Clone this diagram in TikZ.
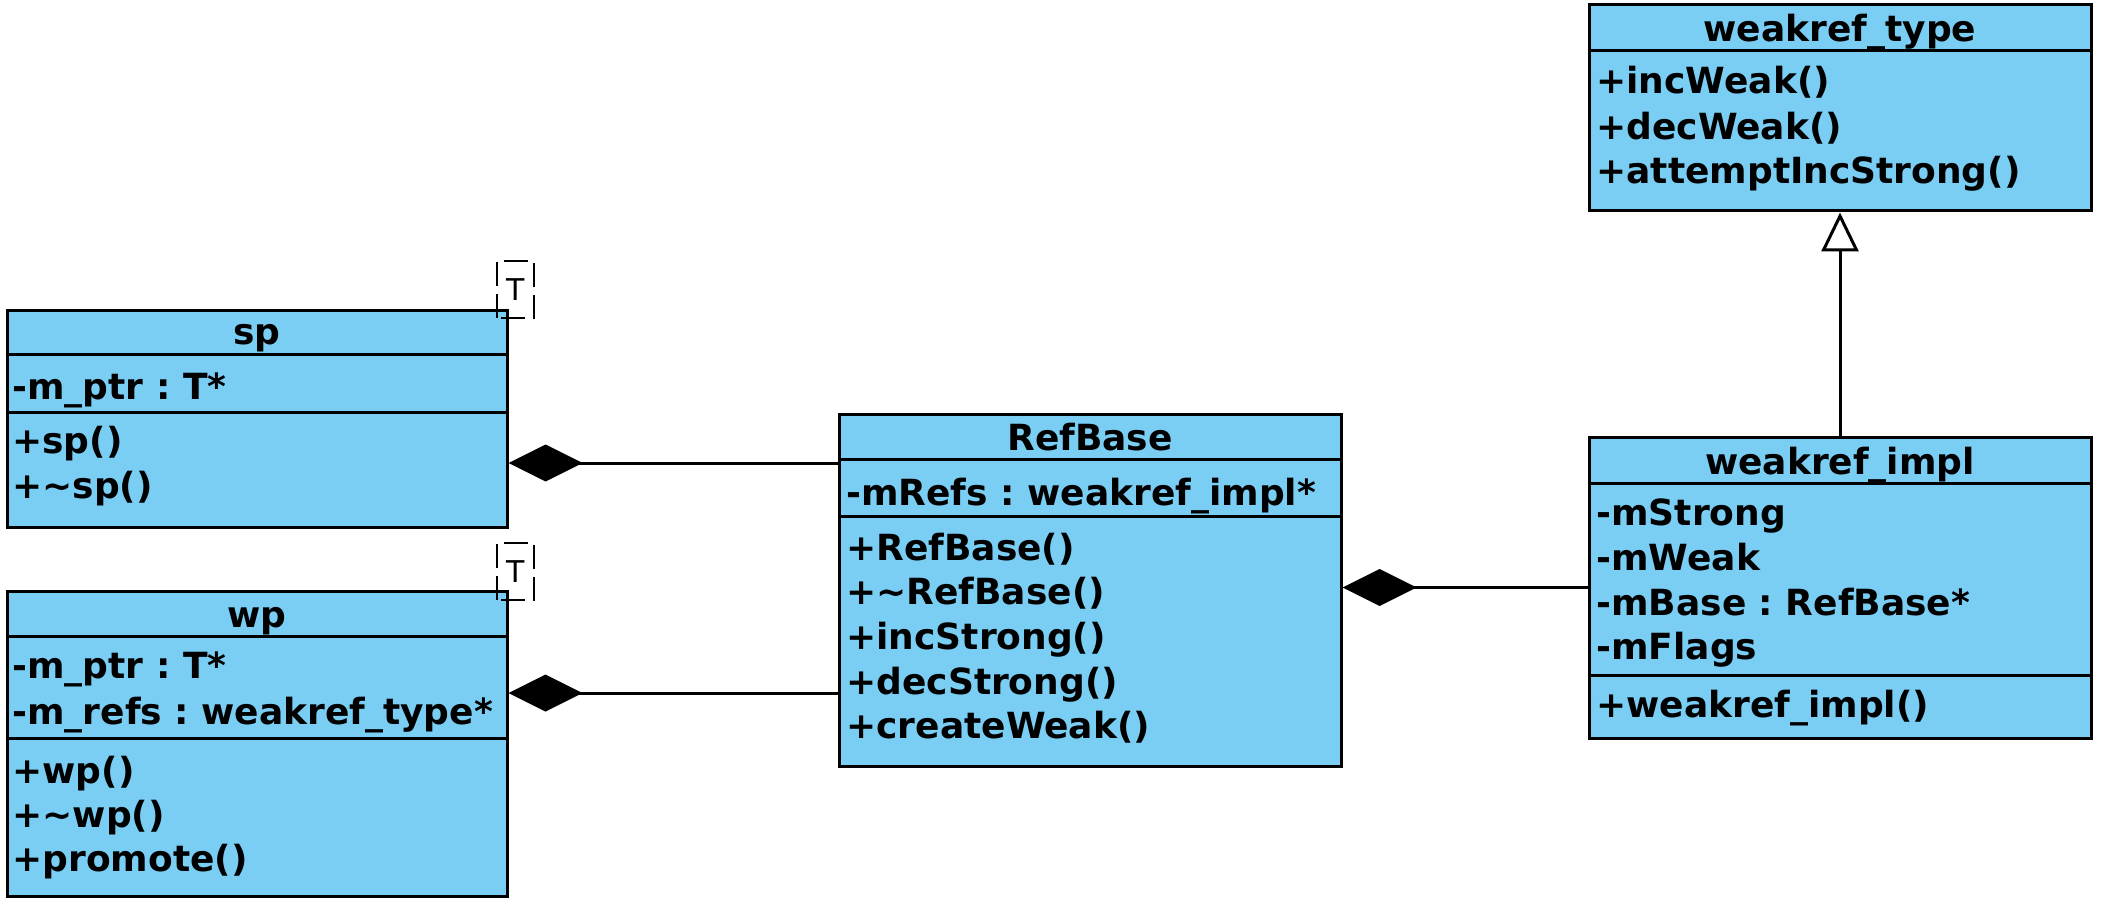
\documentclass[tikz,border=0pt]{standalone}
\usepackage{fontspec}
\setmainfont{DejaVu Sans}
\usetikzlibrary{arrows.meta,fit}
\definecolor{classblue}{RGB}{122,206,244}
\frenchspacing
\tikzset{
  classbox/.style={draw, line width=1.5pt, fill=classblue, inner sep=0pt},
  sepline/.style={line width=1.5pt},
  classname/.style={anchor=mid, inner sep=0pt, font=\fontsize{18}{22}\selectfont\bfseries},
  member/.style={anchor=mid west, inner sep=0pt, font=\fontsize{18}{22}\selectfont\bfseries},
  tparam/.style={draw, dash pattern=on 12pt off 4pt, dash phase=-2pt, line width=1pt, inner sep=0pt},
  tname/.style={inner sep=0pt, font=\fontsize{15}{18}\selectfont},
  compose/.style={line width=1.5pt, -{Diamond[length=37pt, width=18.5pt]}},
  inherit/.style={line width=1.5pt, -{Triangle[open, fill=white, length=19.5pt, width=18.5pt]}},
}
\begin{document}
\begin{tikzpicture}[x=0.5pt, y=-0.5pt]
  \useasboundingbox (0,0) rectangle (2103,909);

  % sp
  \node[classbox, fit={(7,310) (507,527)}] (sp) {};
  \draw[sepline] (sp.west |- 0,354) -- (sp.east |- 0,354);
  \draw[sepline] (sp.west |- 0,412) -- (sp.east |- 0,412);
  \node[classname] (sp-name) at (257,339) {sp};
  \node[member] (sp-a1) at (12,394) {-m\_ptr : T*};
  \node[member] (sp-m1) at (12,448) {+sp()};
  \node[member] (sp-m2) at (12,493) {+\textasciitilde sp()};
  \node[tparam, fit={(497,261) (534,318)}] (sp-tbox) {};
  \node[tname] (sp-t) at (sp-tbox.center) {T};

  % wp
  \node[classbox, fit={(7,591) (507,896)}] (wp) {};
  \draw[sepline] (wp.west |- 0,636) -- (wp.east |- 0,636);
  \draw[sepline] (wp.west |- 0,738) -- (wp.east |- 0,738);
  \node[classname] (wp-name) at (257,622) {wp};
  \node[member] (wp-a1) at (12,673) {-m\_ptr : T*};
  \node[member] (wp-a2) at (12,719) {-m\_refs : weakref\_type*};
  \node[member] (wp-m1) at (12,778) {+wp()};
  \node[member] (wp-m2) at (12,822) {+\textasciitilde wp()};
  \node[member] (wp-m3) at (12,866) {+promote()};
  \node[tparam, fit={(497,543) (534,600)}] (wp-tbox) {};
  \node[tname] (wp-t) at (wp-tbox.center) {T};

  % RefBase
  \node[classbox, fit={(839,414) (1341,766)}] (refbase) {};
  \draw[sepline] (refbase.west |- 0,459) -- (refbase.east |- 0,459);
  \draw[sepline] (refbase.west |- 0,516) -- (refbase.east |- 0,516);
  \node[classname] (refbase-name) at (1090,445) {RefBase};
  \node[member] (refbase-a1) at (846,500) {-mRefs : weakref\_impl*};
  \node[member] (refbase-m1) at (846,555) {+RefBase()};
  \node[member] (refbase-m2) at (846,599) {+\textasciitilde RefBase()};
  \node[member] (refbase-m3) at (846,644) {+incStrong()};
  \node[member] (refbase-m4) at (846,689) {+decStrong()};
  \node[member] (refbase-m5) at (846,733) {+createWeak()};

  % weakref_impl
  \node[classbox, fit={(1589,437) (2091,738)}] (impl) {};
  \draw[sepline] (impl.west |- 0,483) -- (impl.east |- 0,483);
  \draw[sepline] (impl.west |- 0,675) -- (impl.east |- 0,675);
  \node[classname] (impl-name) at (1840,469) {weakref\_impl};
  \node[member] (impl-a1) at (1596,520) {-mStrong};
  \node[member] (impl-a2) at (1596,565) {-mWeak};
  \node[member] (impl-a3) at (1596,610) {-mBase : RefBase*};
  \node[member] (impl-a4) at (1596,654) {-mFlags};
  \node[member] (impl-m1) at (1596,712) {+weakref\_impl()};

  % weakref_type
  \node[classbox, fit={(1589,5) (2091,211)}] (wtype) {};
  \draw[sepline] (wtype.west |- 0,51) -- (wtype.east |- 0,51);
  \node[classname] (wtype-name) at (1840,36) {weakref\_type};
  \node[member] (wtype-m1) at (1596,88) {+incWeak()};
  \node[member] (wtype-m2) at (1596,134) {+decWeak()};
  \node[member] (wtype-m3) at (1596,178) {+attemptIncStrong()};

  % connectors
  \draw[compose] (refbase.west |- 0,463) -- (sp.east |- 0,463);
  \draw[compose] (refbase.west |- 0,693) -- (wp.east |- 0,693);
  \draw[compose] (impl.west) -- (refbase.east |- impl.west);
  \draw[inherit] (impl.north) -- (wtype.south);
\end{tikzpicture}
\end{document}
